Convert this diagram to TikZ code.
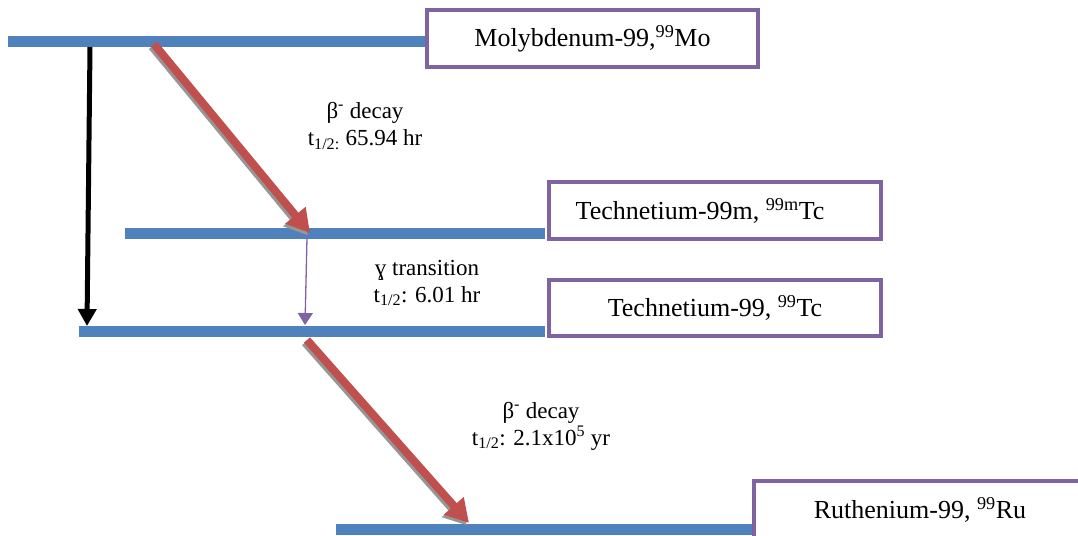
\documentclass[tikz,border=0pt]{standalone}
\usepackage{fontspec}
\setmainfont{Liberation Serif}
\usetikzlibrary{arrows.meta}
\definecolor{barblue}{HTML}{4F81BD}
\definecolor{boxpurple}{HTML}{8064A2}
\definecolor{decayred}{HTML}{C0504D}
\definecolor{shadowgray}{RGB}{150,150,150}
\tikzset{
  levelbar/.style={draw=none, fill=barblue, inner sep=0pt, minimum height=11pt},
  isobox/.style={draw=boxpurple, line width=4pt, fill=white, inner sep=0pt, minimum width=332pt, minimum height=57pt},
  boxtext/.style={font=\fontsize{26}{30}\selectfont, inner sep=0pt},
  lbl/.style={font=\fontsize{23}{27}\selectfont, align=center, inner sep=0pt},
  decay/.style={draw=decayred, line width=8pt, -{Triangle[length=23pt,width=25pt]}},
  decayshadow/.style={draw=shadowgray, line width=8pt, -{Triangle[length=23pt,width=25pt]}},
  direct/.style={draw=black, line width=5pt, -{Triangle[length=17pt,width=18pt]}},
  gamma/.style={draw=boxpurple, line width=1.3pt, -{Triangle[length=12pt,width=15pt]}}
}
\begin{document}
\begin{tikzpicture}[x=1pt,y=-1pt]
\path[use as bounding box] (0,0) rectangle (1078,535);
\clip (0,0) rectangle (1078,535);
% level bars
\node[levelbar, minimum width=417pt] (b1) at (216.5,42) {};
\node[levelbar, minimum width=420pt] (b2) at (335,233) {};
\node[levelbar, minimum width=466pt] (b3) at (312,331) {};
\node[levelbar, minimum width=416pt] (b4) at (544,529) {};
% boxes
\node[isobox, minimum width=331pt] (mo) at (592.5,38.5) {};
\node[boxtext] (motxt) at (mo.center) {Molybdenum-99,\textsuperscript{99}Mo};
\node[isobox] (tcm) at (715,210.5) {};
\node[boxtext] (tcmtxt) at (700,210.5) {Technetium-99m, \textsuperscript{99m}Tc};
\node[isobox, minimum height=56pt] (tc) at (715,308) {};
\node[boxtext] (tctxt) at (tc.center) {Technetium-99, \textsuperscript{99}Tc};
\node[isobox] (ru) at (920,509.5) {};
\node[boxtext] (rutxt) at (ru.center) {Ruthenium-99, \textsuperscript{99}Ru};
% arrow end points
\coordinate (k0) at (90,47);
\coordinate (k1) at (87,326);
\coordinate (r0) at (154,44);
\coordinate (r1) at (310,233);
\coordinate (g0) at (307,238);
\coordinate (g1) at (305,325);
\coordinate (s0) at (307,340);
\coordinate (s1) at (469,523);
% arrows
\draw[direct] (k0) -- (k1);
\draw[decayshadow] ([shift={(-2,2.5)}]r0) -- ([shift={(-2,2.5)}]r1);
\draw[decay] (r0) -- (r1);
\draw[gamma] (g0) -- (g1);
\draw[decayshadow] ([shift={(-2,2.5)}]s0) -- ([shift={(-2,2.5)}]s1);
\draw[decay] (s0) -- (s1);
% labels
\node[lbl] (l1) at (365,126) {β\textsuperscript{-} decay\\t\textsubscript{1/2:} 65.94 hr};
\node[lbl] (l2) at (427,283) {ɣ transition\\t\textsubscript{1/2}: 6.01 hr};
\node[lbl] (l3) at (541,426) {β\textsuperscript{-} decay\\t\textsubscript{1/2}: 2.1x10\textsuperscript{5} yr};
\end{tikzpicture}
\end{document}
